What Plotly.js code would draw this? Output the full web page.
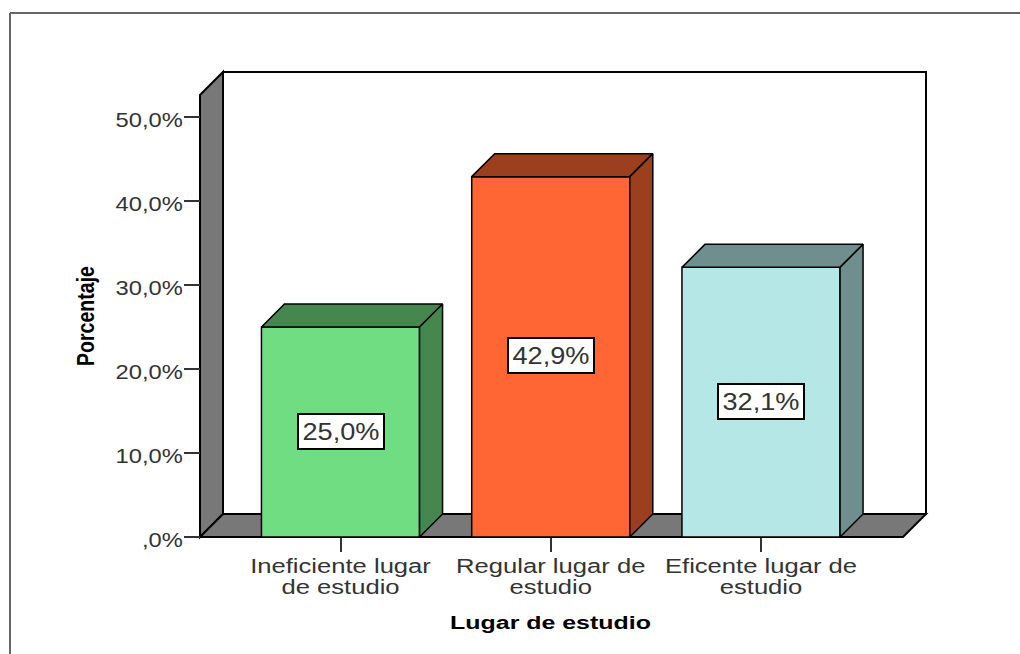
<!DOCTYPE html>
<html><head><meta charset="utf-8">
<script src="https://cdn.plot.ly/plotly-3.0.1.min.js"></script>
<style>html,body{margin:0;padding:0;background:#fff}#c{width:1020px;height:654px}</style>
</head><body><div id="c"></div>
<script>
const categories = ["Ineficiente lugar<br>de estudio","Regular lugar de<br>estudio","Eficente lugar de<br>estudio"];
const percentages = [25.0, 42.9, 32.1];
const valueLabels = ["25,0%","42,9%","32,1%"];
const yTickValues = [0,10,20,30,40,50];
const yTickLabels = [",0%","10,0%","20,0%","30,0%","40,0%","50,0%"];
const frontColors = ["#70DD83","#FF6633","#B5E7E7"];
const sideColors = ["#468750","#9C3F1F","#6F8F8F"];

// axis scale: pixels per unit in the reference
const pxX = 210.25, pxY = 8.4;
const depthX = 23/pxX, depthY = 23/pxY;
const barWidth = 0.752;
const wallLeft = (200-340.5)/pxX, wallRight = (903-340.5)/pxX, wallTop = (537-95)/pxY;
const xIdx = categories.map((_,i)=>i);

const poly = pts => 'M'+pts.map(p=>p[0]+','+p[1]).join(' L')+' Z';
const wallShape = (pts,fill)=>({type:'path',xref:'x',yref:'y',layer:'below',path:poly(pts),fillcolor:fill,line:{color:'#000',width:2}});

const shapes = [
  wallShape([[wallLeft+depthX,depthY],[wallRight+depthX,depthY],[wallRight+depthX,wallTop+depthY],[wallLeft+depthX,wallTop+depthY]],'#ffffff'),
  wallShape([[wallLeft,0],[wallLeft+depthX,depthY],[wallLeft+depthX,wallTop+depthY],[wallLeft,wallTop]],'#787878'),
  wallShape([[wallLeft,0],[wallLeft+depthX,depthY],[wallRight+depthX,depthY],[wallRight,0]],'#787878')
];

const traces = [{
  type:'bar',x:xIdx,y:percentages,width:barWidth,
  marker:{color:frontColors,line:{color:'#000',width:1.5}},hoverinfo:'skip',showlegend:false
}];
percentages.forEach((v,i)=>{
  const l=i-barWidth/2,r=i+barWidth/2;
  traces.push({type:'scatter',mode:'lines',fill:'toself',fillcolor:sideColors[i],line:{color:'#000',width:1.5},hoverinfo:'skip',showlegend:false,
    x:[l,l+depthX,r+depthX,r,l],y:[v,v+depthY,v+depthY,v,v]});
  traces.push({type:'scatter',mode:'lines',fill:'toself',fillcolor:sideColors[i],line:{color:'#000',width:1.5},hoverinfo:'skip',showlegend:false,
    x:[r,r+depthX,r+depthX,r,r],y:[0,depthY,v+depthY,v,0]});
});

// plot area in pixels (slightly larger than the chart so edge lines are not clipped)
const W=1020,H=654,L=190,R=935,T=65,B=545;
const layout = {
  width:W,height:H,margin:{l:L,r:W-R,t:T,b:H-B,pad:0},
  paper_bgcolor:'#fff',plot_bgcolor:'rgba(0,0,0,0)',showlegend:false,
  xaxis:{range:[(L-340.5)/pxX,(R-340.5)/pxX],tickvals:xIdx,ticktext:categories,showgrid:false,zeroline:false,showline:false,
    anchor:'free',position:(B-537)/(B-T),ticks:'outside',ticklen:14,tickwidth:2,tickcolor:'#333',
    tickfont:{family:'Liberation Sans',size:21,color:'#333'},tickangle:0,
    title:{text:'Lugar de estudio',font:{family:'Liberation Sans',size:18,color:'#000',weight:700},standoff:14}},
  yaxis:{range:[(537-B)/pxY,(537-T)/pxY],tickvals:yTickValues,ticktext:yTickLabels,showgrid:false,zeroline:false,showline:false,
    anchor:'free',position:(200-L)/(R-L),ticks:'outside',ticklen:16,tickwidth:2,tickcolor:'#333',
    tickfont:{family:'Liberation Sans',size:21,color:'#333'},
    title:{text:'Porcentaje',font:{family:'Liberation Sans',size:23,color:'#000',weight:700},standoff:16}},
  annotations:percentages.map((v,i)=>({xref:'x',yref:'y',x:i,y:v/2,text:valueLabels[i],showarrow:false,yshift:1,
    width:84,height:33,bgcolor:'#fff',bordercolor:'#000',borderwidth:2,borderpad:0,align:'center',valign:'middle',
    font:{family:'Liberation Sans',size:23,color:'#333'}})),
  shapes:shapes.concat([
    {type:'line',xref:'paper',yref:'paper',x0:(10-L)/(R-L),x1:(1030-L)/(R-L),y0:(B-13)/(B-T),y1:(B-13)/(B-T),line:{color:'#666',width:2}},
    {type:'line',xref:'paper',yref:'paper',x0:(10-L)/(R-L),x1:(10-L)/(R-L),y0:(B-13)/(B-T),y1:(B-660)/(B-T),line:{color:'#666',width:2}}
  ])
};

function stretch(el,sx,dx=0,dy=0){
  const x=el.getAttribute('x'),t=el.getAttribute('transform')||'';
  el.setAttribute('transform',`translate(${dx},${dy}) `+t+` translate(${x},0) scale(${sx},1) translate(${-x},0)`);
}
Plotly.newPlot('c',traces,layout,{displayModeBar:false,staticPlot:true}).then(()=>{
  document.querySelectorAll('.xtick text').forEach(t=>{
    stretch(t,1.22,0,-4.5);
    t.querySelectorAll('tspan.line').forEach((s,i)=>s.setAttribute('dy',(i*1.03)+'em'));
  });
  document.querySelectorAll('.ytick text').forEach(t=>stretch(t,1.13,3,3));
  document.querySelectorAll('.annotation-text').forEach(t=>stretch(t,1.18,0,1));
  const xt=document.querySelector('.xtitle'); if(xt) stretch(xt,1.385,-12,-6);
  const yt=document.querySelector('.ytitle'); if(yt) {
    const x=yt.getAttribute('x'),y=yt.getAttribute('y');
    yt.setAttribute('transform',`translate(-2,11) rotate(-90,${x},${y}) translate(${x},0) scale(0.85,1) translate(${-x},0)`);
  }
});
</script></body></html>
